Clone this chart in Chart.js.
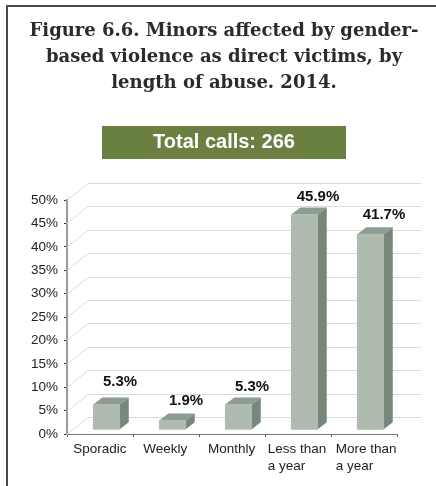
<!DOCTYPE html>
<html>
<head>
<meta charset="utf-8">
<script src="https://cdn.jsdelivr.net/npm/chart.js@4/dist/chart.umd.min.js"></script>
<style>
  html, body { margin: 0; padding: 0; background: #fff; overflow: hidden; }
  #page { position: absolute; left: 6px; top: 5px; width: 440px; height: 490px; border-left: 2px solid #4a4a4a; border-top: 2px solid #4a4a4a; }
  canvas { display: block; }
</style>
</head>
<body>
<div id="page"><canvas id="chart" width="432" height="479"></canvas></div>
<script>
const categories = ['Sporadic', 'Weekly', 'Monthly', ['Less than', 'a year'], ['More than', 'a year']];
const shares = [5.3, 1.9, 5.3, 45.9, 41.7];
const titleLines = ['Figure 6.6. Minors affected by gender-', 'based violence as direct victims, by', 'length of abuse. 2014.'];
const subtitleText = 'Total calls: 266';

const sans = '"Liberation Sans", Arial, sans-serif';
const barShift = 6.5;       // front face sits right of the category centre
const depthX = 9, depthY = 7;
const wallX = 21, wallY = 17;
const wallEnd = 24;
const labelLift = [23, 20, 18, 18, 19];
const tickNudge = [-26.7, -22.7, -24, -30.3, -28.3];

const fake3d = {
  id: 'fake3d',
  beforeDraw(chart) {
    const ctx = chart.ctx;
    ctx.save();
    ctx.fillStyle = '#fff';
    ctx.fillRect(0, 0, chart.width, chart.height);
    // green band behind the subtitle
    ctx.fillStyle = '#698041';
    ctx.fillRect(94, 119, 244, 33);
    ctx.restore();
  },
  afterLayout(chart) {
    // multi-line labels stay left aligned, each nudged from its tick
    const x = chart.scales.x;
    x.getLabelItems().forEach((item, i) => {
      item.options.translation[0] = x.getPixelForTick(i) + tickNudge[i];
    });
  },
  beforeDatasetsDraw(chart) {
    const ctx = chart.ctx;
    const { left, right } = chart.chartArea;
    const y = chart.scales.y;
    ctx.save();
    // back wall and side wall lines
    ctx.lineWidth = 1;
    y.ticks.forEach(t => {
      const py = Math.round(y.getPixelForValue(t.value)) + 0.5;
      ctx.strokeStyle = '#d9dcdf';
      ctx.beginPath();
      ctx.moveTo(left, py);
      ctx.lineTo(left + wallX, py - wallY);
      ctx.lineTo(right + wallEnd, py - wallY);
      ctx.stroke();
    });
    // top and side faces of the bars
    chart.getDatasetMeta(0).data.forEach(bar => {
      const x0 = bar.x - bar.width / 2 + barShift;
      const x1 = bar.x + bar.width / 2 + barShift;
      ctx.fillStyle = '#8e9d92';
      ctx.beginPath();
      ctx.moveTo(x0, bar.y);
      ctx.lineTo(x0 + depthX, bar.y - depthY);
      ctx.lineTo(x1 + depthX, bar.y - depthY);
      ctx.lineTo(x1, bar.y);
      ctx.closePath();
      ctx.fill();
      ctx.fillStyle = '#78877c';
      ctx.beginPath();
      ctx.moveTo(x1, bar.y);
      ctx.lineTo(x1 + depthX, bar.y - depthY);
      ctx.lineTo(x1 + depthX, bar.base - depthY);
      ctx.lineTo(x1, bar.base);
      ctx.closePath();
      ctx.fill();
    });
    ctx.restore();
  },
  beforeDatasetDraw(chart) {
    chart.ctx.save();
    chart.ctx.translate(barShift, 0);
  },
  afterDatasetDraw(chart) {
    chart.ctx.restore();
  },
  afterDatasetsDraw(chart) {
    const ctx = chart.ctx;
    ctx.save();
    ctx.fillStyle = '#111';
    ctx.font = 'bold 15px ' + sans;
    ctx.textAlign = 'center';
    ctx.textBaseline = 'middle';
    chart.getDatasetMeta(0).data.forEach((bar, i) => {
      ctx.fillText(shares[i].toFixed(1) + '%', bar.x + barShift + 13.5, bar.y - labelLift[i]);
    });
    ctx.restore();
  }
};

new Chart(document.getElementById('chart'), {
  type: 'bar',
  data: {
    labels: categories,
    datasets: [{
      data: shares,
      yAxisID: 'yBar',
      backgroundColor: '#aebbae',
      borderWidth: 0,
      barThickness: 26.5,
      clip: false
    }]
  },
  options: {
    responsive: false,
    animation: false,
    layout: { padding: { top: 11, right: 0, left: 0, bottom: 0 } },
    plugins: {
      legend: { display: false },
      tooltip: { enabled: false },
      title: {
        display: true,
        text: titleLines,
        color: '#2b2b2b',
        font: { family: '"DejaVu Serif", serif', size: 18, weight: 'bold', lineHeight: 26 / 18 },
        padding: { top: 0, bottom: 35 }
      },
      subtitle: {
        display: true,
        text: subtitleText,
        color: '#fff',
        font: { family: sans, size: 20, weight: 'bold', lineHeight: 22 / 20 },
        padding: { top: 0, bottom: 47 }
      }
    },
    scales: {
      x: {
        grid: { drawOnChartArea: false, color: '#555', tickLength: 3 },
        border: { color: '#777', width: 1 },
        afterFit: s => { s.height = 52; },
        ticks: {
          autoSkip: false,
          maxRotation: 0,
          align: 'start',
          padding: 4,
          color: '#222',
          font: { family: sans, size: 13.5, lineHeight: 17 / 13.5 }
        }
      },
      y: {
        min: 0,
        max: 50,
        grid: { drawOnChartArea: false, color: '#333', tickLength: 3 },
        border: { color: '#999', width: 2 },
        afterFit: s => { s.width = 59; },
        ticks: {
          stepSize: 5,
          padding: 6,
          color: '#222',
          font: { family: sans, size: 13.5 },
          callback: v => v + '%'
        }
      },
      // same pixels as y, but the bars stand a little forward of the axis zero;
      // sits on the right with nothing drawn, it only holds the empty margin
      yBar: {
        position: 'right',
        min: -1,
        max: 49,
        grid: { display: false },
        border: { display: false },
        ticks: { display: false },
        afterFit: s => { s.width = 43; }
      }
    }
  },
  plugins: [fake3d]
});
</script>
</body>
</html>
